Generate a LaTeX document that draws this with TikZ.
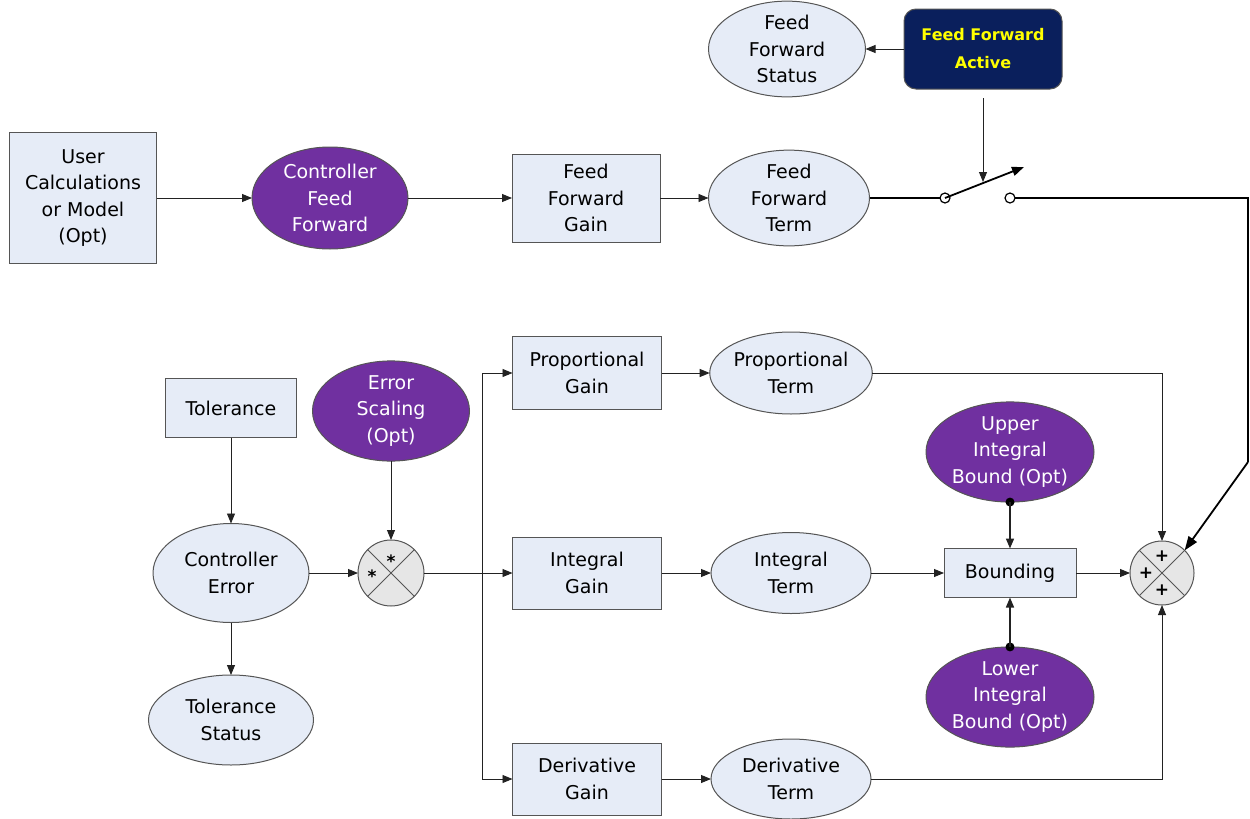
\documentclass[tikz,border=0pt]{standalone}
\usepackage{fontspec}
\setmainfont{DejaVu Sans}
\usetikzlibrary{arrows.meta,shapes.geometric}
\definecolor{boxfill}{HTML}{E6ECF7}
\definecolor{edge}{HTML}{555555}
\definecolor{purp}{HTML}{7030A0}
\definecolor{navy}{HTML}{0A1F5C}
\definecolor{ffyellow}{HTML}{FFFF00}
\definecolor{junction}{HTML}{E6E6E6}
\definecolor{linec}{HTML}{222222}
\tikzset{
  every node/.style={font=\fontsize{19}{26.5}\selectfont, align=center, inner sep=0pt, outer sep=0pt},
  blockbox/.style={rectangle, draw=edge, fill=boxfill, line width=1pt},
  softell/.style={ellipse, draw=edge, fill=boxfill, line width=1pt},
  purpell/.style={ellipse, draw=edge, fill=purp, text=white, line width=1pt},
  junc/.style={circle, draw=edge, fill=junction, line width=1pt, minimum size=66pt},
  link/.style={draw=linec, line width=0.9pt, -{Triangle[length=10pt,width=8pt]}},
  heavy/.style={draw=black, line width=1.8pt},
  heavylink/.style={draw=black, line width=1.8pt, -{Triangle[length=14pt,width=10pt]}},
  contact/.style={circle, draw=black, fill=white, line width=1.2pt, minimum size=10pt},
  sign/.style={font=\fontsize{17}{17}\selectfont\bfseries},
}
\begin{document}
\begin{tikzpicture}[x=1pt, y=-1pt]
\useasboundingbox (0,0) rectangle (1250,819);

% feed-forward path
\node[blockbox, minimum width=147pt, minimum height=131pt] (user) at (83,198) {User\\Calculations\\or Model\\(Opt)};
\node[purpell, minimum width=156pt, minimum height=102pt] (cff) at (330,198) {Controller\\Feed\\Forward};
\node[blockbox, minimum width=148pt, minimum height=88pt] (ffgain) at (586,198) {Feed\\Forward\\Gain};
\node[softell, minimum width=161pt, minimum height=90pt] (ffterm) at (789,198) {Feed\\Forward\\Term};
\node[softell, minimum width=157pt, minimum height=88pt] (ffstat) at (787,49) {Feed\\Forward\\Status};
\node[rectangle, rounded corners=12pt, draw=edge, fill=navy, text=ffyellow, line width=1pt,
      minimum width=158pt, minimum height=80pt, font=\fontsize{16}{28}\selectfont\bfseries] (ffa) at (983,49) {Feed Forward\\Active};

% switch
\node[contact] (sw1) at (945,198) {};
\node[contact] (sw2) at (1010,198) {};
\coordinate (lever) at (1024,167);
\coordinate (leverhit) at (983,182);
\coordinate (corner1) at (1248,198);
\coordinate (corner2) at (1248,462);

% error path
\node[blockbox, minimum width=131pt, minimum height=59pt] (tol) at (231,408) {Tolerance};
\node[softell, minimum width=156pt, minimum height=99pt] (cerr) at (231,573) {Controller\\Error};
\node[softell, minimum width=165pt, minimum height=90pt] (tstat) at (231,720) {Tolerance\\Status};
\node[purpell, minimum width=157pt, minimum height=97pt] (escale) at (391,411) {Error\\Scaling\\(Opt)};
\node[junc] (mult) at (391,573) {};
\coordinate (bus) at (482,573);

% PID branches
\node[blockbox, minimum width=149pt, minimum height=73pt] (pgain) at (587,373) {Proportional\\Gain};
\node[softell, minimum width=160pt, minimum height=82pt] (pterm) at (791,373) {Proportional\\Term};
\node[blockbox, minimum width=149pt, minimum height=72pt] (igain) at (587,573) {Integral\\Gain};
\node[softell, minimum width=160pt, minimum height=81pt] (iterm) at (791,573) {Integral\\Term};
\node[blockbox, minimum width=132pt, minimum height=49pt] (bound) at (1010,573) {Bounding};
\node[purpell, minimum width=168pt, minimum height=95pt] (ub) at (1010,452) {Upper\\Integral\\Bound (Opt)};
\node[purpell, minimum width=168pt, minimum height=95pt] (lb) at (1010,697) {Lower\\Integral\\Bound (Opt)};
\node[blockbox, minimum width=149pt, minimum height=72pt] (dgain) at (587,779) {Derivative\\Gain};
\node[softell, minimum width=160pt, minimum height=80pt] (dterm) at (791,779) {Derivative\\Term};
\node[junc, minimum size=64pt] (sum) at (1162,573) {};

% junction crosses and signs
\draw[edge, line width=0.9pt] (mult.north west) -- (mult.south east) (mult.north east) -- (mult.south west);
\draw[edge, line width=0.9pt] (sum.north west) -- (sum.south east) (sum.north east) -- (sum.south west);
\node[sign] at ([yshift=-21pt]mult.north) {*};
\node[sign] at ([xshift=-19pt,yshift=-3pt]mult.center) {*};
\node[sign] at ([yshift=-15pt]sum.north) {+};
\node[sign] at ([xshift=-16pt]sum.center) {+};
\node[sign] at ([yshift=15pt]sum.south) {+};

% feed-forward connectors
\draw[link] (user.east) -- (cff.west);
\draw[link] (cff.east) -- (ffgain.west);
\draw[link] (ffgain.east) -- (ffterm.west);
\draw[link] (ffa.west) -- (ffstat.east);
\draw[heavy] (ffterm.east) -- (sw1.west);
\draw[heavylink, -{Triangle[length=12pt,width=9pt]}] (sw1.center) -- (lever);
\draw[link] ([yshift=-9pt]ffa.south) -- (leverhit);
\draw[heavy] (sw2.east) -- (corner1) -- (corner2);
\draw[heavylink] (corner2) -- (sum.north east);

% error connectors
\draw[link] (tol.south) -- (cerr.north);
\draw[link] (cerr.south) -- (tstat.north);
\draw[link] (cerr.east) -- (mult.west);
\draw[link] (escale.south) -- (mult.north);
\draw[link] (mult.east) -- (igain.west);
\draw[link] (bus) |- (pgain.west);
\draw[link] (bus) |- (dgain.west);

% PID connectors
\draw[link] (pgain.east) -- (pterm.west);
\draw[link] (igain.east) -- (iterm.west);
\draw[link] (dgain.east) -- (dterm.west);
\draw[link] (pterm.east) -| (sum.north);
\draw[link] (dterm.east) -| (sum.south);
\draw[link] (iterm.east) -- (bound.west);
\draw[link] (bound.east) -- (sum.west);
\fill[black] (ub.south) circle (4.5pt);
\fill[black] (lb.north) circle (4.5pt);
\draw[link, line width=1.6pt] (ub.south) -- (bound.north);
\draw[link, line width=1.6pt] (lb.north) -- (bound.south);
\end{tikzpicture}
\end{document}
